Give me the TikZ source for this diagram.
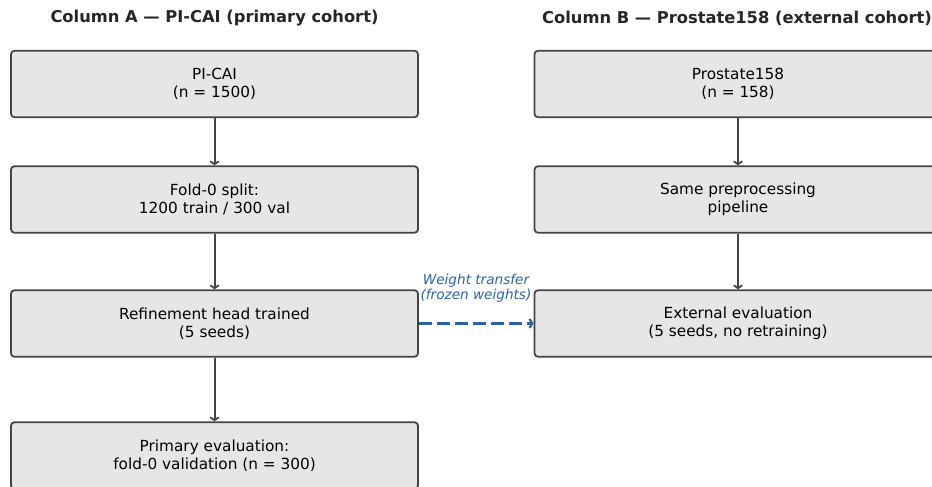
\documentclass[tikz,border=0pt]{standalone}
\usepackage{fontspec}
\setmainfont{DejaVu Sans}
\usetikzlibrary{arrows.meta}
\definecolor{boxfill}{HTML}{E6E6E6}
\definecolor{boxline}{HTML}{444444}
\definecolor{xfer}{HTML}{2A62A6}
\begin{document}
\begin{tikzpicture}[x=1pt,y=-1pt,
  box/.style={draw=boxline, fill=boxfill, line width=1.8pt, rounded corners=3.5pt,
    minimum width=407pt, minimum height=66.5pt, align=center, inner sep=0pt,
    font=\fontsize{15.3}{17.8}\selectfont},
  title/.style={font=\bfseries\fontsize{16.3}{19}\selectfont, text=black!85},
  flow/.style={draw=boxline, line width=2pt, -{Straight Barb[length=3pt,width=8.5pt,line width=1.8pt]}},
  xferarrow/.style={draw=xfer, line width=2.3pt, dash pattern=on 13pt off 5pt,
    -{Straight Barb[length=3pt,width=9pt,line width=2pt]}},
  xferlabel/.style={text=xfer, align=center, font=\itshape\fontsize{13.6}{15.2}\selectfont}]
\useasboundingbox (0,0) rectangle (932,487);
\node[title] (tA) at (214.5,18.5) {Column A — PI-CAI (primary cohort)};
\node[title] (tB) at (737,18.5) {Column B — Prostate158 (external cohort)};
\node[box] (a1) at (214.5,84) {PI-CAI\\(n = 1500)};
\node[box] (a2) at (214.5,199.5) {Fold-0 split:\\1200 train / 300 val};
\node[box] (a3) at (214.5,323.5) {Refinement head trained\\(5 seeds)};
\node[box] (a4) at (214.5,455.5) {Primary evaluation:\\fold-0 validation (n = 300)};
\node[box] (b1) at (738,84) {Prostate158\\(n = 158)};
\node[box] (b2) at (738,199.5) {Same preprocessing\\pipeline};
\node[box] (b3) at (738,323.5) {External evaluation\\(5 seeds, no retraining)};
\draw[flow] (a1) -- (a2);
\draw[flow] (a2) -- (a3);
\draw[flow] (a3) -- (a4);
\draw[flow] (b1) -- (b2);
\draw[flow] (b2) -- (b3);
\draw[xferarrow] (a3.east) -- (b3.west);
\node[xferlabel] (xl) at (476,288) {Weight transfer\\(frozen weights)};
\end{tikzpicture}
\end{document}
